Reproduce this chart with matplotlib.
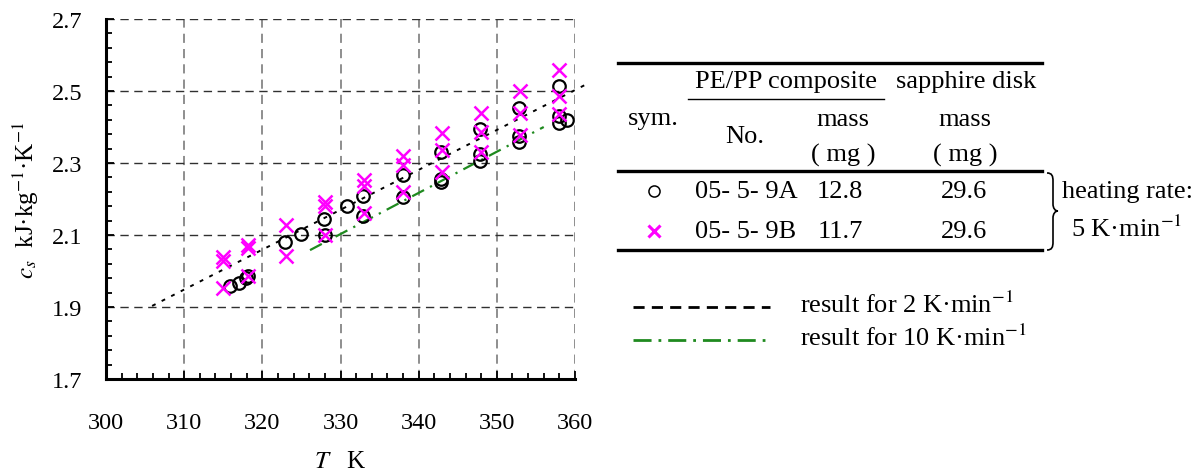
""" Specific heat of PE/PP composite vs temperature, with sample table """

import numpy as np
import matplotlib
matplotlib.use("Agg")
import matplotlib.pyplot as plt
from matplotlib.path import Path
from matplotlib.patches import PathPatch
from matplotlib.ticker import MultipleLocator, FixedLocator, FormatStrFormatter

plt.rcParams['font.family'] = ['Liberation Serif', 'DejaVu Serif']
plt.rcParams['mathtext.fontset'] = 'stix'

# sample 05-5-9A (open circles)
temp_a = [315.9, 317.0, 317.9, 318.2, 322.9, 324.9, 327.9, 328.0, 330.8, 332.9,
          332.9, 338.0, 338.0, 342.8, 342.8, 342.8, 347.8, 347.8, 347.8, 352.8,
          352.8, 352.8, 357.9, 357.9, 357.9, 359.0]
cs_a = [1.958, 1.967, 1.981, 1.986, 2.081, 2.103, 2.144, 2.10, 2.181, 2.208,
        2.153, 2.268, 2.206, 2.331, 2.256, 2.247, 2.394, 2.325, 2.306, 2.453,
        2.375, 2.358, 2.514, 2.431, 2.411, 2.419]

# sample 05-5-9B (magenta crosses)
temp_b = [315, 315, 315, 318.2, 318.2, 318.2, 323, 323, 328, 328, 328,
          333, 333, 333, 338, 338, 338, 343, 343, 343, 348, 348, 348,
          353, 353, 353, 358, 358, 358]
cs_b = [2.039, 2.028, 1.953, 2.072, 2.064, 1.986, 2.128, 2.042, 2.192, 2.18, 2.10,
        2.253, 2.236, 2.161, 2.32, 2.294, 2.22, 2.383, 2.336, 2.275, 2.44, 2.386, 2.33,
        2.50, 2.44, 2.378, 2.558, 2.486, 2.436]

# reference results at other heating rates
temp_2k = [305.9, 361.3]
cs_2k = [1.903, 2.517]
temp_10k = [326.1, 356.0]
cs_10k = [2.058, 2.40]

y_major = [1.7, 1.9, 2.1, 2.3, 2.5, 2.7]

W, H = 1204, 477
fig = plt.figure(figsize=(W / 100, H / 100), dpi=100)
ax = fig.add_axes([106 / W, 1 - 380 / H, 469 / W, 360 / H])

ax.set_xlim(300, 360)
ax.set_ylim(1.7, 2.7)
ax.xaxis.set_major_locator(MultipleLocator(10))
ax.xaxis.set_minor_locator(MultipleLocator(2))
ax.yaxis.set_major_locator(FixedLocator(y_major))
ax.yaxis.set_minor_locator(FixedLocator(np.arange(1.7, 2.701, 0.04)))
ax.yaxis.set_major_formatter(FormatStrFormatter('%.1f'))
ax.tick_params(which='both', direction='in', width=1.3, labelsize=17.5)
ax.tick_params(which='major', length=6)
ax.tick_params(which='minor', length=4)
ax.tick_params(axis='x', pad=24)
ax.tick_params(axis='y', pad=17)
for s in ['top', 'right']:
    ax.spines[s].set_visible(False)
for s in ['left', 'bottom']:
    ax.spines[s].set_linewidth(2.2)

for xv in range(310, 361, 10):
    ax.axvline(xv, color='#707070', lw=1.1, ls=(0, (6, 4)), zorder=0)
for yv in y_major[1:]:
    ax.axhline(yv, color='#303030', lw=1.0, ls=(0, (6, 4)), zorder=0)

ax.plot(temp_2k, cs_2k, color='black', lw=1.4, ls=(0, (2, 3.5)), clip_on=False, zorder=2)
ax.plot(temp_10k, cs_10k, color='#1f8a1f', lw=1.6, ls=(0, (6, 3, 1, 3)), zorder=2)
ax.plot(temp_a, cs_a, ls='none', marker='o', ms=9, mfc='none', mec='black', mew=1.6, zorder=3)
ax.plot(temp_b, cs_b, ls='none', marker='x', ms=10, mec='#ff00ff', mew=1.8, zorder=4)

ax.set_xlabel('$T$   K', fontsize=18, labelpad=12)
ax.set_ylabel('$c_s$  kJ·kg$^{-1}$·K$^{-1}$', fontsize=18, labelpad=8)

# overlay in pixel coordinates for the table and legend
ov = fig.add_axes([0, 0, 1, 1])
ov.set_xlim(0, W)
ov.set_ylim(H, 0)
ov.axis('off')

for yy in [64, 172, 251]:
    ov.plot([618, 1042], [yy, yy], color='black', lw=2.4)
ov.plot([688, 884], [100, 100], color='black', lw=1.0)

fs = 19
ov.text(786, 82, 'PE/PP composite', fontsize=fs, ha='center', va='center')
ov.text(966, 82, 'sapphire disk', fontsize=fs, ha='center', va='center')
ov.text(653, 119, 'sym.', fontsize=fs, ha='center', va='center')
ov.text(745, 137, 'No.', fontsize=fs, ha='center', va='center')
ov.text(843, 120, 'mass', fontsize=fs, ha='center', va='center')
ov.text(843, 155, '( mg )', fontsize=fs, ha='center', va='center')
ov.text(965, 120, 'mass', fontsize=fs, ha='center', va='center')
ov.text(965, 155, '( mg )', fontsize=fs, ha='center', va='center')

ov.plot([654], [192], marker='o', ms=8, mfc='none', mec='black', mew=1.1)
ov.plot([654], [232], marker='x', ms=8, mec='#ff00ff', mew=2.2)
ov.text(746, 192, '05- 5- 9A', fontsize=fs, ha='center', va='center')
ov.text(746, 232, '05- 5- 9B', fontsize=fs, ha='center', va='center')
ov.text(840, 192, '12.8', fontsize=fs, ha='center', va='center')
ov.text(840, 232, '11.7', fontsize=fs, ha='center', va='center')
ov.text(964, 192, '29.6', fontsize=fs, ha='center', va='center')
ov.text(964, 232, '29.6', fontsize=fs, ha='center', va='center')

# curly brace
verts = [(1047, 174), (1052, 174), (1053, 177), (1053, 182),
         (1053, 205),
         (1053, 209), (1055, 212), (1058, 212),
         (1055, 212), (1053, 215), (1053, 219),
         (1053, 243),
         (1053, 248), (1052, 251), (1047, 251)]
codes = [Path.MOVETO, Path.CURVE4, Path.CURVE4, Path.CURVE4,
         Path.LINETO,
         Path.CURVE4, Path.CURVE4, Path.CURVE4,
         Path.CURVE4, Path.CURVE4, Path.CURVE4,
         Path.LINETO,
         Path.CURVE4, Path.CURVE4, Path.CURVE4]
ov.add_patch(PathPatch(Path(verts, codes), fill=False, lw=1.2, color='black'))
ov.text(1127, 192, 'heating rate:', fontsize=fs, ha='center', va='center')
ov.text(1127, 229, '5 K·min$^{-1}$', fontsize=fs, ha='center', va='center')

# legend for the reference lines
ov.plot([633, 770], [308, 308], color='black', lw=2.0, ls=(0, (4, 2.6)))
ov.plot([633, 770], [341, 341], color='#1f8a1f', lw=2.0, ls=(0, (6.5, 2.5, 1, 2.5)))
ov.text(800, 305, 'result for 2 K·min$^{-1}$', fontsize=fs, ha='left', va='center')
ov.text(800, 338, 'result for 10 K·min$^{-1}$', fontsize=fs, ha='left', va='center')

fig.savefig('out.png', dpi=100)
